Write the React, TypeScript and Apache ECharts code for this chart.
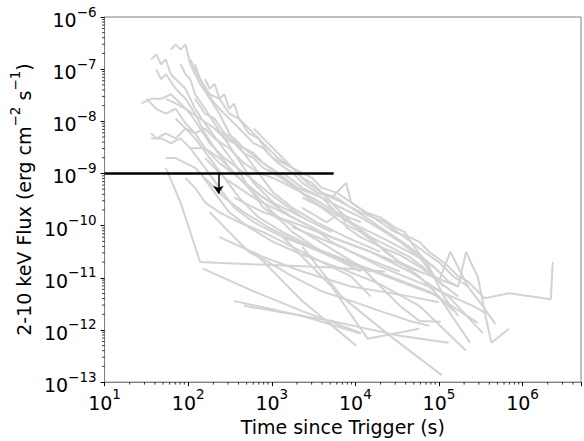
import React, { useEffect, useRef } from "react";
import * as echarts from "echarts";

// Light curves: [time since trigger (s), 2-10 keV flux (erg cm^-2 s^-1)]
const lc01 = [[36, 1.54e-7], [41.5, 1.91e-7], [47.4, 1.24e-7], [54, 1.54e-7], [62, 8.0e-8], [71, 6.4e-8], [93, 4.2e-8], [121, 1.74e-8], [159, 9.1e-9], [237, 3.8e-9], [355, 1.58e-9], [531, 5.3e-10], [908, 2.2e-10], [1770, 7.5e-11], [3970, 3.15e-11], [11600, 1.32e-11]];
const lc02 = [[62, 2.38e-7], [71, 2.95e-7], [81, 2.38e-7], [93, 2.95e-7], [106, 1.24e-7], [121, 8.0e-8], [139, 5.2e-8], [181, 2.7e-8], [237, 1.4e-8], [310, 5.9e-9], [464, 2.45e-9], [694, 1.03e-9], [1040, 4.3e-10], [1770, 2.2e-10], [3470, 1.16e-10], [7770, 6.0e-11], [19900, 3.15e-11]];
const lc03 = [[41.5, 9.9e-8], [47.4, 6.4e-8], [54, 8.0e-8], [71, 4.2e-8], [93, 2.7e-8], [121, 1.4e-8], [159, 5.9e-9], [207, 3.05e-9], [310, 1.28e-9], [464, 6.6e-10], [794, 3.45e-10], [1770, 1.8e-10], [5200, 7.5e-11]];
const lc04 = [[27.7, 2.2e-8], [36, 2.7e-8], [47.4, 2.7e-8], [62, 3.3e-8], [81, 2.2e-8], [106, 1.4e-8], [139, 7.3e-9], [181, 3.8e-9], [271, 1.97e-9], [464, 1.03e-9], [908, 4.3e-10], [2320, 1.44e-10]];
const lc05 = [[31.7, 2.7e-8], [41.5, 1.74e-8], [54, 1.4e-8], [71, 1.74e-8], [93, 9.1e-9], [121, 5.9e-9], [159, 3.05e-9], [237, 1.58e-9], [406, 8.2e-10], [794, 3.45e-10], [1770, 1.44e-10]];
const lc06 = [[36, 5.9e-9], [41.5, 4.7e-9], [54, 5.9e-9], [71, 4.7e-9], [93, 7.3e-9], [121, 5.9e-9], [159, 7.3e-9], [207, 4.7e-9], [310, 3.05e-9], [464, 1.58e-9], [694, 1.03e-9], [1040, 8.2e-10], [1770, 5.3e-10], [3040, 3.45e-10], [5940, 1.8e-10], [11600, 1.16e-10]];
const lc07 = [[36, 4.7e-9], [47.4, 4.7e-9], [62, 3.8e-9], [81, 4.7e-9], [106, 3.05e-9], [159, 3.05e-9], [237, 1.97e-9], [355, 1.03e-9], [531, 5.3e-10], [794, 2.2e-10], [1360, 1.16e-10]];
const lc08 = [[54, 1.97e-9], [71, 1.97e-9], [93, 1.58e-9], [121, 1.28e-9], [181, 6.6e-10], [271, 3.45e-10], [464, 1.8e-10], [908, 9.3e-11], [2030, 4.9e-11], [5200, 2.5e-11], [15200, 1.32e-11]];
const lc09 = [[81, 1.24e-7], [93, 8.0e-8], [106, 6.4e-8], [121, 3.3e-8], [159, 1.74e-8], [207, 9.1e-9], [271, 4.7e-9], [355, 2.45e-9], [464, 1.28e-9], [607, 6.6e-10], [908, 3.45e-10], [1360, 1.8e-10], [2320, 1.16e-10], [5200, 6.0e-11], [15200, 3.15e-11], [58200, 1.32e-11], [170000, 6.8e-12]];
const lc10 = [[106, 1.54e-7], [121, 9.9e-8], [159, 4.2e-8], [207, 2.2e-8], [271, 1.4e-8], [355, 9.1e-9], [464, 5.9e-9], [607, 3.8e-9], [794, 3.05e-9], [1040, 1.97e-9], [1360, 1.58e-9], [1770, 1.28e-9], [2320, 1.03e-9], [3040, 8.2e-10], [3970, 5.3e-10], [5940, 4.3e-10], [8890, 2.8e-10], [13300, 1.8e-10], [19900, 1.16e-10], [29700, 7.5e-11], [44500, 6.0e-11], [58200, 4.9e-11], [76000, 3.15e-11], [99500, 2.32e-11], [130000, 1.64e-11], [170000, 1.06e-11], [222000, 8.5e-12], [291000, 5.5e-12], [351000, 4.06e-12], [687000, 5.05e-12], [2.18e6, 3.89e-12], [2.3e6, 2.0e-11]];
const lc11 = [[121, 1.24e-7], [139, 6.4e-8], [181, 3.3e-8], [237, 2.7e-8], [310, 1.4e-8], [406, 1.12e-8], [531, 5.9e-9], [694, 4.7e-9], [908, 3.05e-9], [1190, 1.97e-9], [1770, 1.28e-9], [2660, 6.6e-10], [3970, 4.3e-10], [6800, 2.8e-10], [11600, 1.8e-10], [22700, 1.16e-10], [38900, 6.0e-11], [66500, 3.15e-11], [99500, 2.0e-11], [149000, 1.06e-11], [222000, 6.8e-12]];
const lc12 = [[1360, 1.03e-9], [2320, 5.3e-10], [3970, 3.45e-10], [6800, 2.2e-10], [11600, 1.44e-10], [19900, 8.6e-11], [34000, 4.9e-11], [58200, 2.5e-11], [99500, 8.5e-12], [137000, 3.15e-11], [180000, 1.32e-11], [222000, 6.8e-12], [333000, 2.9e-12], [472000, 1.31e-12]];
const lc13 = [[2320, 3.45e-10], [5200, 1.8e-10], [11600, 9.3e-11], [26000, 4.9e-11], [50800, 2.76e-11], [86900, 1.64e-11], [130000, 8.5e-12], [170000, 6.8e-12], [211000, 3.15e-11], [254000, 1.64e-11], [291000, 1.06e-11], [360000, 1.85e-12], [424000, 5.7e-13], [687000, 1.05e-12]];
const lc14 = [[159, 6.4e-8], [181, 4.2e-8], [207, 5.2e-8], [237, 2.7e-8], [271, 3.3e-8], [310, 1.74e-8], [355, 2.2e-8], [406, 1.12e-8], [531, 7.3e-9], [694, 4.7e-9], [908, 2.45e-9], [1190, 1.58e-9], [1770, 1.03e-9], [2320, 6.6e-10], [3470, 4.3e-10], [5200, 3.45e-10], [7770, 6.6e-10], [8890, 2.8e-10], [13300, 1.8e-10], [19900, 1.44e-10], [29700, 9.3e-11], [38900, 7.5e-11], [50800, 3.9e-11], [76000, 1.64e-11], [114000, 4.4e-12], [170000, 1.85e-12]];
const lc15 = [[207, 7.3e-9], [271, 4.7e-9], [355, 3.8e-9], [464, 2.45e-9], [607, 1.97e-9], [794, 1.28e-9], [1040, 1.03e-9], [1550, 6.6e-10], [2320, 4.3e-10], [3970, 2.2e-10], [6800, 1.16e-10], [11600, 7.5e-11], [19900, 3.9e-11], [34000, 2.0e-11], [58200, 1.06e-11], [99500, 4.4e-12], [149000, 2.3e-12]];
const lc16 = [[159, 1.97e-9], [207, 1.28e-9], [271, 8.2e-10], [406, 5.3e-10], [607, 3.45e-10], [1040, 2.2e-10], [1770, 1.44e-10], [3040, 9.3e-11], [5200, 4.9e-11], [8890, 3.15e-11], [17400, 2.0e-11], [34000, 1.32e-11]];
const lc17 = [[54, 1.28e-9], [81, 2.8e-10], [139, 2.0e-11], [5200, 1.57e-11], [22700, 1.32e-11]];
const lc18 = [[150, 1.5e-11], [607, 5.5e-12], [2320, 2.3e-12], [11600, 8.8e-13]];
const lc19 = [[355, 3.6e-12], [2320, 1.85e-12], [11600, 8.5e-13]];
const lc20 = [[464, 2.9e-12], [5200, 1.49e-12], [34000, 7.7e-13], [130000, 5.7e-13]];
const lc21 = [[607, 3.15e-11], [2320, 3.6e-12], [10200, 5.0e-13]];
const lc22 = [[2320, 3.9e-11], [6800, 4.4e-12], [26000, 7.7e-13], [108000, 1.36e-13]];
const lc23 = [[1360, 6.0e-11], [5200, 6.8e-12], [14000, 6.8e-13], [58200, 1.05e-12]];
const lc24 = [[237, 6.0e-11], [794, 2.5e-11], [2320, 1.32e-11], [8890, 6.8e-12], [44500, 4.4e-12], [99500, 3.41e-12]];
const lc25 = [[1770, 9.3e-11], [6800, 3.9e-11], [19900, 1.64e-11], [76000, 6.8e-12], [254000, 2.9e-12], [380000, 2.02e-12]];
const lc26 = [[794, 2.2e-10], [3040, 6.0e-11], [11600, 1.64e-11], [34000, 2.9e-12], [58200, 1.49e-12], [105000, 1.43e-12]];
const lc27 = [[106, 3.05e-9], [159, 1.28e-9], [237, 5.3e-10], [355, 2.2e-10], [607, 1.16e-10], [1360, 6.0e-11], [3970, 3.15e-11], [11600, 1.64e-11], [34000, 8.5e-12], [99500, 4.4e-12], [235000, 5.7e-13]];
const lc28 = [[139, 1.03e-9], [207, 4.3e-10], [310, 1.8e-10], [531, 9.3e-11], [1040, 4.9e-11], [2320, 2.76e-11], [6800, 1.5e-11], [19900, 7.5e-12], [58200, 2.9e-12], [211000, 4.0e-13]];
const lc29 = [[355, 3.45e-10], [794, 1.8e-10], [1770, 1.16e-10], [5200, 6.0e-11], [15200, 3.15e-11], [44500, 1.32e-11], [130000, 4.4e-12], [333000, 8.8e-13]];
const lc30 = [[71, 1.12e-8], [93, 7.3e-9], [121, 4.7e-9], [181, 1.97e-9], [271, 8.2e-10], [406, 3.45e-10], [694, 1.44e-10], [1360, 7.5e-11], [3040, 3.9e-11], [8890, 2.0e-11], [26000, 1.06e-11], [76000, 5.5e-12], [291000, 1.37e-12]];
const lc31 = [[121, 2.7e-8], [159, 1.4e-8], [207, 1.12e-8], [271, 5.9e-9], [355, 4.7e-9], [464, 3.05e-9], [607, 2.45e-9], [794, 1.58e-9], [1190, 1.03e-9], [2030, 5.3e-10], [3970, 3.45e-10], [6800, 1.44e-10], [10200, 9.3e-11], [15200, 6.0e-11], [22700, 3.15e-11], [34000, 2.0e-11], [58200, 1.32e-11]];
const lc32 = [[54, 2.7e-8], [71, 2.2e-8], [93, 1.74e-8], [139, 1.12e-8], [207, 7.3e-9], [310, 4.7e-9], [464, 3.05e-9], [794, 1.58e-9], [1360, 8.2e-10], [2660, 3.45e-10], [5200, 1.8e-10]];
const lc33 = [[181, 1.8e-10], [310, 7.5e-11], [531, 3.15e-11], [908, 2.0e-11], [1770, 1.06e-11], [3970, 5.5e-12], [8890, 3.6e-12], [19900, 2.3e-12], [44500, 1.49e-12], [76000, 1.2e-12]];
const lc34 = [[93, 8.2e-10], [121, 5.3e-10], [159, 2.8e-10], [237, 1.8e-10], [406, 1.16e-10], [794, 7.5e-11], [1770, 3.9e-11], [3970, 2.0e-11], [8890, 1.06e-11], [15200, 4.4e-12]];
const lc35 = [[607, 7.3e-9], [794, 4.7e-9], [1040, 3.05e-9], [1360, 1.97e-9], [1770, 1.28e-9], [2320, 8.2e-10], [3040, 6.6e-10], [3970, 4.3e-10], [5940, 3.45e-10], [8890, 2.2e-10], [13300, 1.44e-10], [19900, 9.3e-11], [29700, 6.0e-11], [44500, 3.9e-11], [66500, 2.32e-11], [99500, 1.32e-11]];
const lc36 = [[2320, 2.2e-10], [4540, 1.16e-10], [6800, 1.8e-10], [7770, 9.3e-11], [11600, 6.0e-11], [19900, 3.9e-11], [34000, 2.76e-11], [58200, 1.64e-11], [99500, 8.5e-12], [170000, 4.4e-12]];
const lc37 = [[3970, 4.3e-10], [5940, 2.2e-10], [8890, 1.16e-10], [15200, 6.0e-11], [26000, 3.9e-11], [44500, 2.5e-11], [76000, 1.32e-11], [114000, 6.8e-12]];

const lightCurves = [lc01, lc02, lc03, lc04, lc05, lc06, lc07, lc08, lc09, lc10, lc11, lc12, lc13, lc14, lc15, lc16, lc17, lc18, lc19, lc20, lc21, lc22, lc23, lc24, lc25, lc26, lc27, lc28, lc29, lc30, lc31, lc32, lc33, lc34, lc35, lc36, lc37];

// Flux threshold line and upper-limit arrow
const thresholdLine = [[10, 1e-9], [5500, 1e-9]];
const arrowStart = [230, 1e-9];
const arrowEnd = [230, 4.1e-10];

// Axis ranges
const xRange = [10, 5.0e6];
const yRange = [1e-13, 1e-6];
const xDecades = [1, 2, 3, 4, 5, 6];
const yDecades = [-13, -12, -11, -10, -9, -8, -7];
const minorMultipliers = [2, 3, 4, 5, 6, 7, 8, 9];

const FONT = "DejaVu Sans";

function powLabel(v: number): string {
  const e = Math.log10(v);
  const r = Math.round(e);
  if (Math.abs(e - r) > 1e-6) return "";
  const s = r < 0 ? "\u2212" + String(-r) : String(r);
  return `{b|10}{s|${s}}`;
}

const rich = {
  b: { fontFamily: FONT, fontSize: 19, lineHeight: 25, color: "#000", verticalAlign: "bottom" },
  s: { fontFamily: FONT, fontSize: 13.5, lineHeight: 17, color: "#000", verticalAlign: "top" },
};

export default function App() {
  const ref = useRef<HTMLDivElement>(null);
  useEffect(() => {
    if (!ref.current) return;
    const chart = echarts.init(ref.current, undefined, { renderer: "svg" });

    const xMinor: number[][] = [];
    xDecades.concat([0]).forEach((d) => {
      minorMultipliers.forEach((m) => {
        const v = m * Math.pow(10, d);
        if (v > xRange[0] && v < xRange[1]) xMinor.push([v, yRange[0]]);
      });
    });
    const yMinor: number[][] = [];
    yDecades.forEach((d) => {
      minorMultipliers.forEach((m) => {
        const v = m * Math.pow(10, d);
        if (v > yRange[0] && v < yRange[1]) yMinor.push([xRange[0], v]);
      });
    });

    const greySeries = lightCurves.map((lc, i) => ({
      type: "line",
      name: "lc" + i,
      data: lc,
      showSymbol: false,
      symbol: "none",
      lineStyle: { color: "#d3d3d3", width: 2 },
      silent: true,
      z: 2,
    }));

    chart.setOption({
      animation: false,
      grid: {
        left: 97,
        right: -1,
        top: 17,
        bottom: 54,
        show: true,
        borderColor: "#808080",
        borderWidth: 1,
        backgroundColor: "transparent",
      },
      xAxis: {
        type: "log",
        logBase: 10,
        min: xRange[0],
        max: xRange[1],
        name: "Time since Trigger (s)",
        nameLocation: "middle",
        nameGap: 29,
        nameTextStyle: { fontFamily: FONT, fontSize: 19, color: "#000" },
        axisLine: { show: true, lineStyle: { color: "#808080", width: 1 } },
        axisTick: { show: true, inside: false, length: 4, lineStyle: { color: "#000", width: 1 } },
        axisLabel: { formatter: powLabel, margin: 5, rich, fontFamily: FONT, color: "#000" },
        splitLine: { show: false },
      },
      yAxis: {
        type: "log",
        logBase: 10,
        min: yRange[0],
        max: yRange[1],
        name: "{b|2-10 keV Flux (erg cm}{s|\u22122}{b| s}{s|\u22121}{b|)}",
        nameLocation: "middle",
        nameGap: 63,
        nameTextStyle: { fontFamily: FONT, fontSize: 19, color: "#000", rich },
        axisLine: { show: true, lineStyle: { color: "#808080", width: 1 } },
        axisTick: { show: true, inside: false, length: 4, lineStyle: { color: "#000", width: 1 } },
        axisLabel: { formatter: powLabel, margin: 8, rich, fontFamily: FONT, color: "#000" },
        splitLine: { show: false },
      },
      series: [
        ...greySeries,
        {
          type: "line",
          name: "threshold",
          data: thresholdLine,
          showSymbol: false,
          symbol: "none",
          lineStyle: { color: "#000", width: 2.5 },
          silent: true,
          z: 5,
          markLine: {
            silent: true,
            symbol: ["none", "arrow"],
            symbolSize: 8,
            label: { show: false },
            lineStyle: { color: "#000", width: 1.5, type: "solid" },
            data: [[{ coord: arrowStart }, { coord: arrowEnd }]],
          },
        },
        {
          type: "custom",
          name: "xMinor",
          data: xMinor,
          clip: false,
          silent: true,
          z: 6,
          renderItem: (params: any, api: any) => {
            const p = api.coord([api.value(0), api.value(1)]);
            return {
              type: "line",
              shape: { x1: p[0], y1: p[1], x2: p[0], y2: p[1] + 2.5 },
              style: { stroke: "#000", lineWidth: 0.8 },
            };
          },
        },
        {
          type: "custom",
          name: "yMinor",
          data: yMinor,
          clip: false,
          silent: true,
          z: 6,
          renderItem: (params: any, api: any) => {
            const p = api.coord([api.value(0), api.value(1)]);
            return {
              type: "line",
              shape: { x1: p[0] - 2.5, y1: p[1], x2: p[0], y2: p[1] },
              style: { stroke: "#000", lineWidth: 0.8 },
            };
          },
        },
      ],
    });
    return () => chart.dispose();
  }, []);

  return (
    <div
      ref={ref}
      style={{ position: "absolute", left: 0, top: 0, width: 584, height: 441, background: "#fff" }}
    />
  );
}
